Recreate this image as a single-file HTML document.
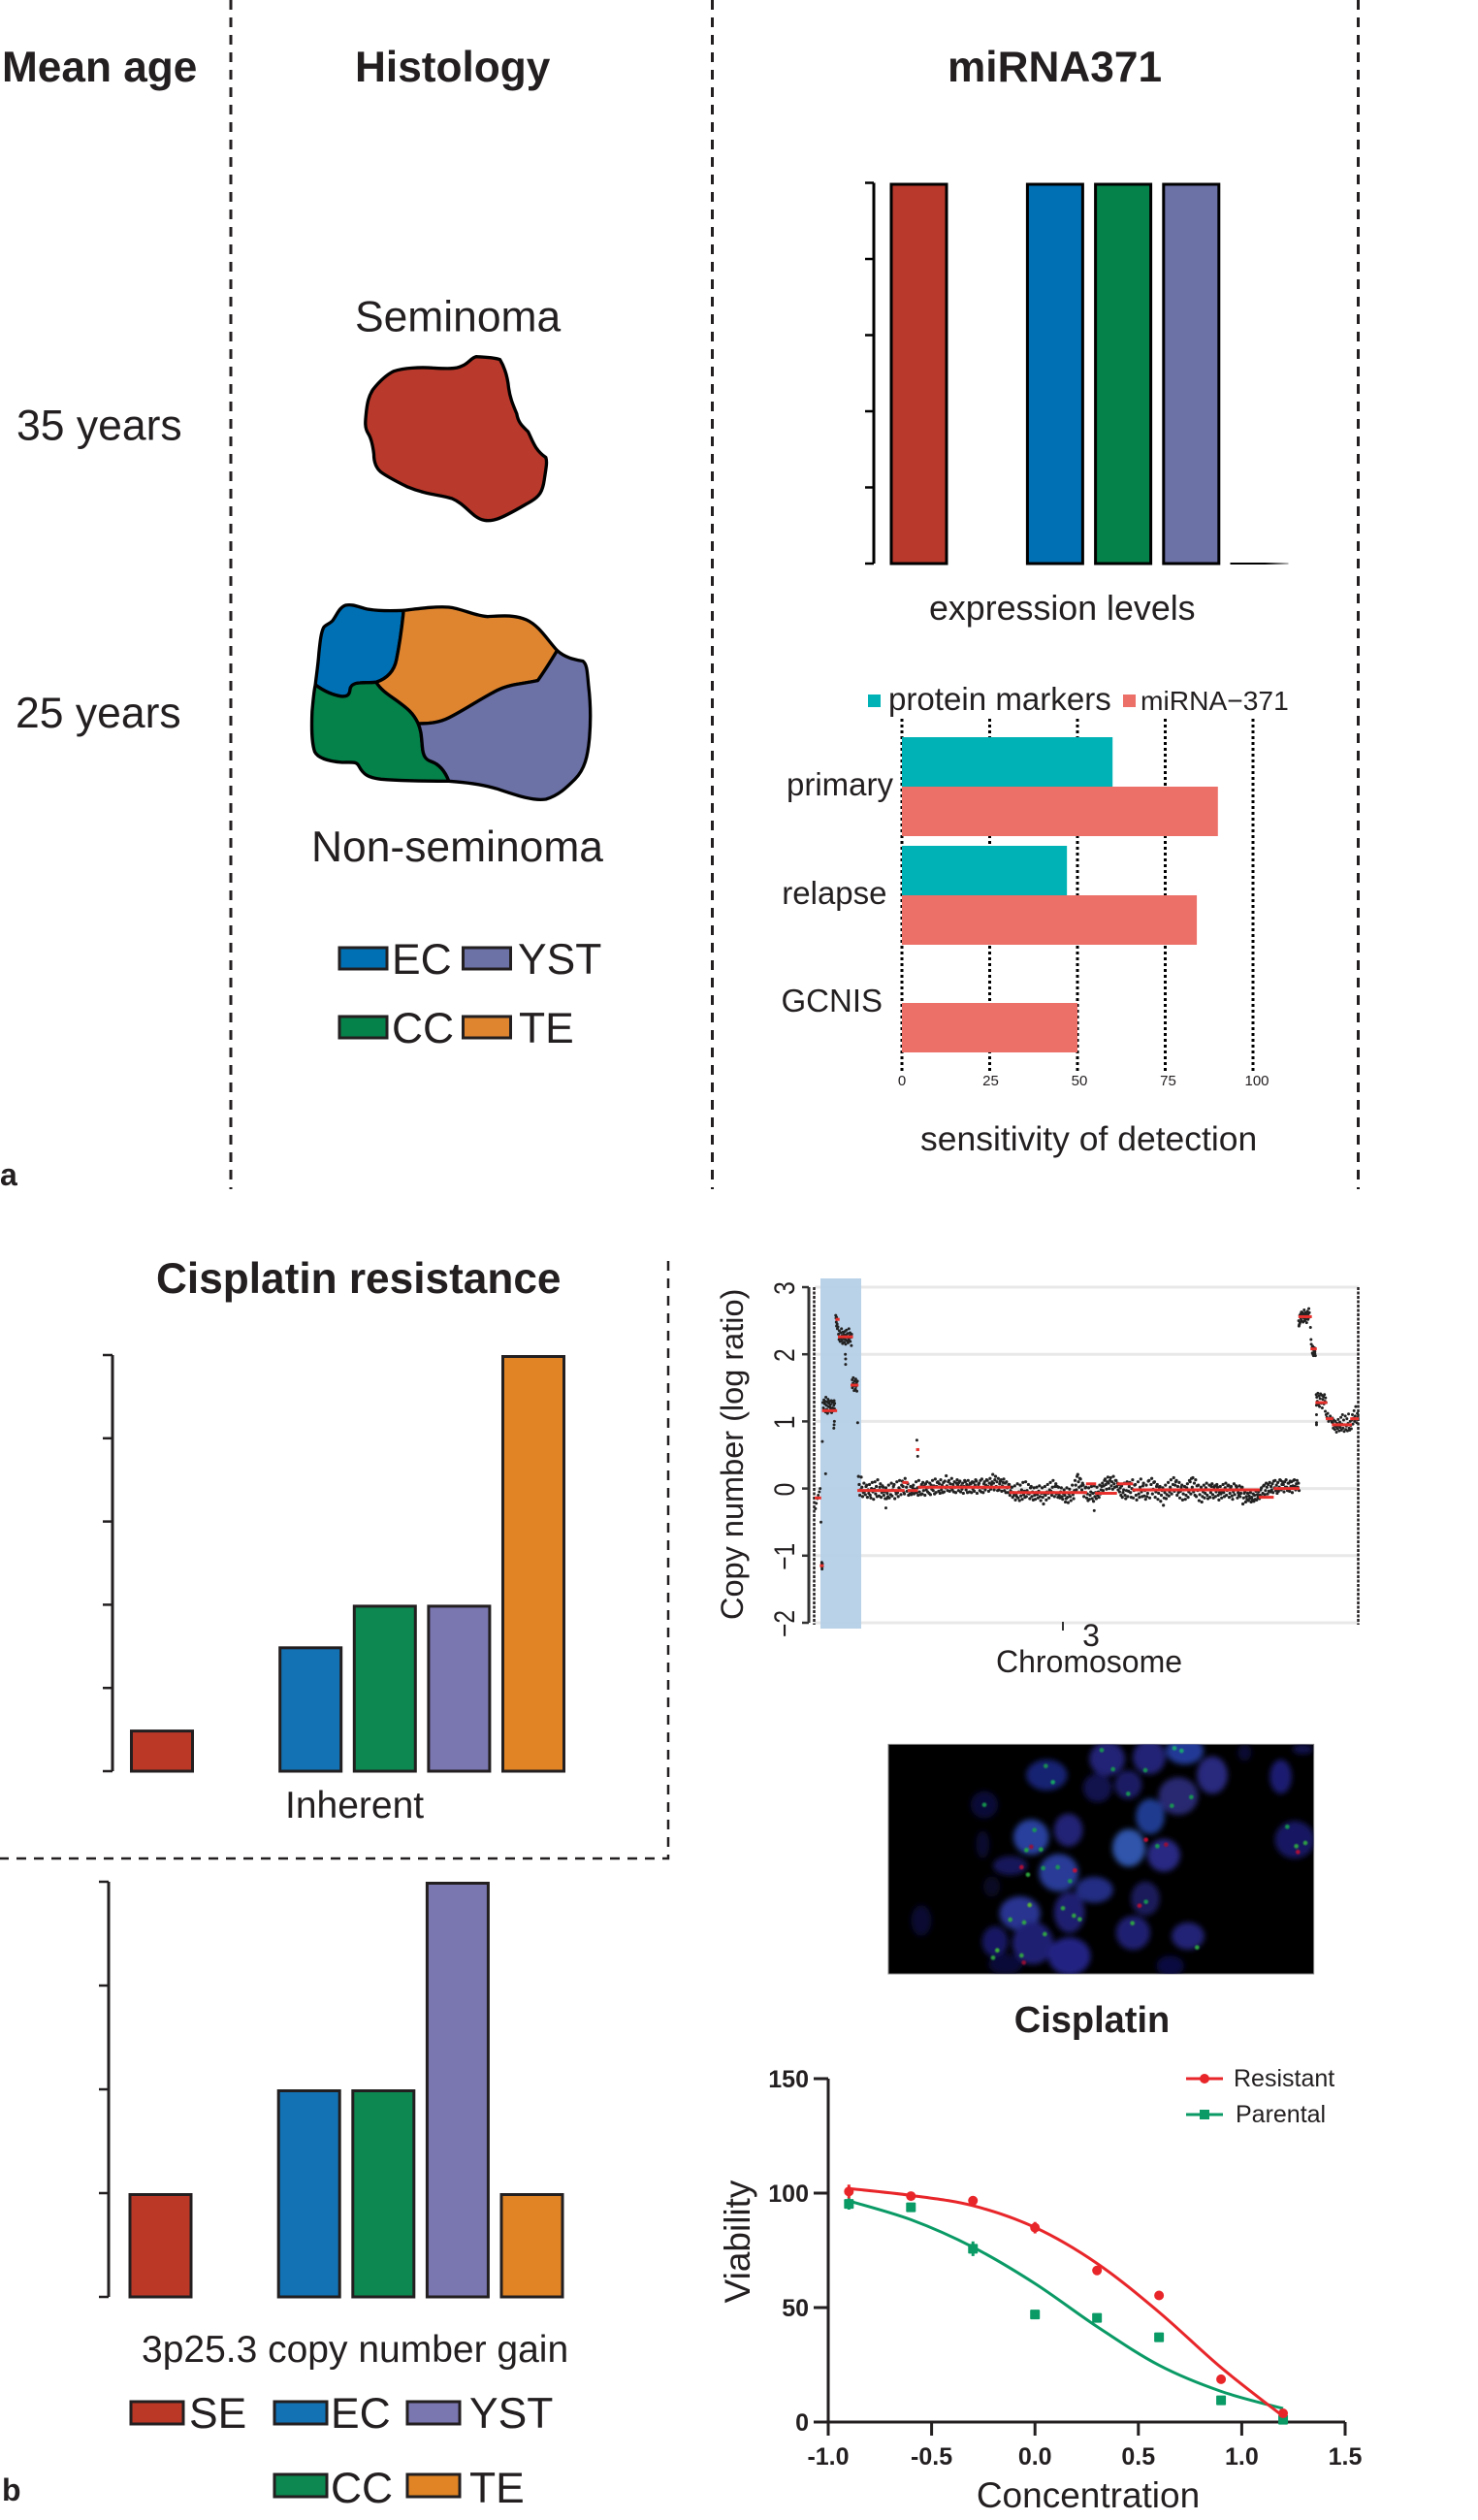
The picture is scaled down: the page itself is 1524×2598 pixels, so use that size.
<!DOCTYPE html>
<html lang="en">
<head>
<meta charset="utf-8">
<title>Testicular germ cell tumour figure</title>
<style>
html,body{margin:0;padding:0;background:#fff;}
svg{display:block;}
text{font-family:"Liberation Sans",Arial,sans-serif;fill:#231f20;}
.b{font-weight:bold;}
</style>
</head>
<body>
<svg id="figure" xmlns="http://www.w3.org/2000/svg" width="1524" height="2598" viewBox="0 0 1524 2598">
<defs>
<linearGradient id="fade" x1="0" x2="1" y1="0" y2="0"><stop offset="0.6" stop-color="#000"/><stop offset="1" stop-color="#bbb"/></linearGradient>
<filter id="blur2" x="-30%" y="-30%" width="160%" height="160%"><feGaussianBlur stdDeviation="9"/></filter>
<filter id="blur1" x="-100%" y="-100%" width="300%" height="300%"><feGaussianBlur stdDeviation="2"/></filter>
<clipPath id="fishClip"><rect x="48" y="25" width="1316" height="710"/></clipPath>
</defs>

<!-- Panel a: static text and dividers -->
<g>
<line x1="238" y1="0" x2="238" y2="1226" stroke="#231f20" stroke-width="3" stroke-dasharray="10 8"/>
<line x1="734.5" y1="0" x2="734.5" y2="1226" stroke="#231f20" stroke-width="3" stroke-dasharray="10 8"/>
<line x1="1400.5" y1="0" x2="1400.5" y2="1226" stroke="#231f20" stroke-width="3" stroke-dasharray="10 8"/>
<text x="2" y="84" font-size="44.2" class="b">Mean age</text>
<text x="366" y="84" font-size="44.2" class="b">Histology</text>
<text x="977" y="84" font-size="44.2" class="b">miRNA371</text>
<text x="17" y="453.5" font-size="44.5">35 years</text>
<text x="16" y="750" font-size="44.5">25 years</text>
<text x="366" y="341.5" font-size="44.4">Seminoma</text>
<text x="321" y="888" font-size="44.4">Non-seminoma</text>
<text x="0" y="1222" font-size="32" class="b">a</text>

<g transform="translate(299.5 340) scale(0.33333)" stroke="#000" stroke-width="10" stroke-linejoin="round">
<path fill="#b93a2c" d="M575,83 C600,85 630,85 648,92 C665,120 672,150 675,180 C680,215 690,235 700,260 C705,290 720,300 735,315 C750,345 755,370 790,395 C795,410 790,430 785,465 C780,500 770,515 745,530 C710,550 670,575 640,585 C610,595 590,590 570,575 C545,555 530,535 500,522 C460,510 420,510 360,485 C330,470 300,455 280,440 C262,425 258,405 258,385 C255,360 250,335 240,320 C228,300 232,280 235,250 C238,225 242,205 255,185 C275,160 295,140 320,128 C350,118 400,115 440,118 C480,120 510,122 530,112 C550,105 560,85 575,83 Z"/>
<path fill="#0070b4" d="M350,868 C300,870 260,870 230,862 C205,855 190,848 170,852 C150,860 145,880 130,900 C120,910 110,912 103,920 C95,935 92,960 88,1000 C85,1040 80,1070 77,1098 C100,1115 130,1130 160,1134 C175,1134 182,1130 184,1115 C185,1100 195,1093 215,1092 C235,1090 250,1092 265,1090 C295,1080 320,1060 328,1020 C338,970 345,920 350,868 Z"/>
<path fill="#df8530" d="M350,868 C400,862 450,855 490,858 C530,862 570,885 610,887 C650,885 690,880 730,897 C770,915 795,960 825,992 C805,1025 790,1050 765,1085 C720,1095 680,1095 640,1115 C590,1140 540,1175 490,1200 C460,1215 430,1218 395,1218 C380,1185 360,1170 330,1148 C305,1130 280,1115 265,1090 C295,1080 320,1060 328,1020 C338,970 345,920 350,868 Z"/>
<path fill="#05814a" d="M77,1098 C100,1115 130,1130 160,1134 C175,1134 182,1130 184,1115 C185,1100 195,1093 215,1092 C235,1090 250,1092 265,1090 C280,1115 305,1130 330,1148 C360,1170 380,1185 395,1218 C405,1240 405,1260 408,1290 C410,1320 420,1330 435,1335 C465,1345 480,1370 490,1396 C420,1396 340,1395 280,1390 C240,1385 225,1375 212,1350 C205,1335 195,1338 160,1338 C120,1335 85,1325 75,1305 C65,1275 65,1230 67,1180 C70,1150 72,1120 77,1098 Z"/>
<path fill="#6c71a6" d="M825,992 C850,1015 880,1020 905,1025 C918,1035 918,1060 922,1100 C928,1150 930,1200 925,1260 C920,1320 910,1360 880,1390 C855,1415 830,1440 790,1452 C750,1458 700,1440 640,1420 C590,1405 540,1400 490,1396 C480,1370 465,1345 435,1335 C420,1330 410,1320 408,1290 C405,1260 405,1240 395,1218 C430,1218 460,1215 490,1200 C540,1175 590,1140 640,1115 C680,1095 720,1095 765,1085 C790,1050 805,1025 825,992 Z"/>
</g>

<g stroke-width="3">
<rect x="350" y="977" width="49" height="22" fill="#0070b4" stroke="#231f20"/>
<text x="404" y="1004" font-size="44.4" stroke="none">EC</text>
<rect x="477.5" y="977" width="49" height="22" fill="#6c71a6" stroke="#231f20"/>
<text x="534" y="1004" font-size="44.4" stroke="none">YST</text>
<rect x="350" y="1048" width="49" height="22" fill="#05814a" stroke="#231f20"/>
<text x="404" y="1075" font-size="44.4" stroke="none">CC</text>
<rect x="477.5" y="1048" width="49" height="22" fill="#df8530" stroke="#231f20"/>
<text x="535" y="1075" font-size="44.4" stroke="none">TE</text>
</g>

<g id="mirnaChart"></g>
<text x="958" y="639" font-size="35.8">expression levels</text>

<g>
<rect x="895" y="716" width="13" height="13" fill="#00b2b5"/>
<text x="916" y="732" font-size="33.1">protein markers</text>
<rect x="1158" y="716" width="13" height="13" fill="#ec6f68"/>
<text x="1176" y="732" font-size="28.2">miRNA−371</text>
</g>
<g id="sensChart"></g>
<text x="949" y="1186" font-size="35.5">sensitivity of detection</text>
</g>

<!-- Panel b -->
<g>
<path d="M689 1300 V1916 H0" fill="none" stroke="#231f20" stroke-width="2.5" stroke-dasharray="10 8"/>
<text x="161" y="1333" font-size="44.2" class="b">Cisplatin resistance</text>
<g id="inherentChart"></g>
<text x="294" y="1874" font-size="39">Inherent</text>
<g id="gainChart"></g>
<text x="146" y="2435" font-size="39">3p25.3 copy number gain</text>

<g>
<rect x="135" y="2476" width="54" height="23" fill="#bb3827" stroke="#231f20" stroke-width="3"/>
<text x="195" y="2503" font-size="44.4">SE</text>
<rect x="283" y="2476" width="54" height="23" fill="#1272b4" stroke="#231f20" stroke-width="3"/>
<text x="341" y="2503" font-size="44.4">EC</text>
<rect x="420" y="2476" width="54" height="23" fill="#7a76b0" stroke="#231f20" stroke-width="3"/>
<text x="484" y="2503" font-size="44.4">YST</text>
<rect x="283" y="2551" width="54" height="23" fill="#0c8850" stroke="#231f20" stroke-width="3"/>
<text x="341" y="2580" font-size="44.4">CC</text>
<rect x="420" y="2551" width="54" height="23" fill="#e08425" stroke="#231f20" stroke-width="3"/>
<text x="484" y="2580" font-size="44.4">TE</text>
</g>
<text x="2" y="2578" font-size="32" class="b">b</text>

<g id="cnvChart"></g>
<text x="0" y="0" font-size="32.5" transform="translate(766 1670) rotate(-90)">Copy number (log ratio)</text>
<text x="1123" y="1724" font-size="32" text-anchor="middle">Chromosome</text>

<g transform="translate(900 1790) scale(0.33333)">
<rect x="48" y="25" width="1316" height="710" fill="#000" stroke="#888" stroke-width="3"/>
<g clip-path="url(#fishClip)">
<g id="fishCells" filter="url(#blur2)" opacity="0.82"></g>
<g id="fishSpots" filter="url(#blur1)" opacity="0.9"></g>
</g>
</g>

<text x="1126" y="2095" font-size="38" class="b" text-anchor="middle">Cisplatin</text>
<g id="viaChart"></g>
<text x="0" y="0" font-size="37" text-anchor="middle" transform="translate(773 2311) rotate(-90)">Viability</text>
<text x="1122" y="2585" font-size="37" text-anchor="middle">Concentration</text>
</g>
</svg>

<script>
/* ---------- chart data ---------- */
const mirnaCategories = ["SE", "", "EC", "CC", "YST", "TE"];
const mirnaValues = [5, null, 5, 5, 5, 0];
const mirnaColors = ["#b93a2c", "", "#0070b4", "#05814a", "#6c71a6", "#000"];
const mirnaTicks = [0, 1, 2, 3, 4, 5];

const sensCategories = ["primary", "relapse", "GCNIS"];
const proteinValues = [60, 47, 0];
const mirnaSensValues = [90, 84, 50];
const sensTicks = [0, 25, 50, 75, 100];

const resistCategories = ["SE", "", "EC", "CC", "YST", "TE"];
const resistColors = ["#bb3827", "", "#1272b4", "#0c8850", "#7a76b0", "#e08425"];
const inherentValues = [0.5, null, 1.5, 2, 2, 5];
const inherentTicks = [0, 1, 2, 3, 4, 5];
const gainValues = [1, null, 2, 2, 4, 1];
const gainTicks = [0, 1, 2, 3, 4];

const cnTicks = [3, 2, 1, 0, -1, -2];
const cnSegStart = [0, 1.9, 2.7, 7.6, 8.5, 13.1, 15.6, 32, 33.9, 37, 37.7, 71, 99, 102.3, 110.3, 115.9, 162, 167.5, 176.5, 180.9, 182.7, 186.5, 188.7, 195.4];
const cnSegEnd = [2.4, 3.3, 8.2, 9.1, 14, 16, 32.8, 34.2, 37.7, 38.2, 71.5, 99.4, 102.7, 110.3, 116.2, 162.4, 167.5, 176.9, 181.4, 183.2, 187, 189.2, 196, 198.5];
const cnSegVal = [-0.14, -1.15, 1.16, 2.52, 2.26, 1.54, -0.03, 0.09, -0.03, 0.58, 0.02, -0.06, 0.07, -0.07, 0.07, -0.02, -0.13, 0, 2.56, 2.08, 1.28, 1.04, 0.95, 1.04];

/* clusters and outliers: position (Mb) and log ratio */
const cnClusterPos = [0.3,0.6,1,1.3,1.7,2,2.3,2.6,2.6,2.7,2.7,2.8,2.8,2.8,4,
3,3.2,3.4,3.5,3.7,3.8,4,4.1,4.3,4.4,4.6,4.7,4.9,5,5.2,5.3,5.5,5.6,5.8,5.9,6.1,6.2,6.4,6.5,6.7,6.8,7,7.1,7.2,7.3,7,7.1,7.2,
7.7,7.8,7.9,8,8,8.2,8.3,8.5,
8.7,8.9,9,9.2,9.3,9.5,9.6,9.8,9.9,10,10.2,10.3,10.5,10.6,10.8,10.9,11,11.2,11.3,11.5,11.6,11.8,11.9,12,12.2,12.3,12.5,12.6,12.8,12.9,13,13.2,13.4,11.2,11.3,11.3,13.5,
13.7,13.8,14,14.1,14.3,14.4,14.6,14.7,14.9,15,15.1,15.3,15.4,15.6,15.7,
37.3,37.6,26,102,
176.6,176.8,177,177.1,177.3,177.4,177.6,177.7,177.9,178,178.2,178.3,178.5,178.6,178.8,178.9,179.1,179.2,179.4,179.5,179.7,179.8,180,180.1,180.3,180.4,180.5,176.7,177,180.9,181.1,181.2,
181.5,181.6,181.7,181.8,181.9,182,182.1,182.2,182.3,182.4,182.5,182.6,182.7,182.5,182.6,
183,183.1,183.2,183.4,183.6,183.8,184,184.2,184.4,184.6,184.8,185,185.2,185.4,185.6,185.8,186,186.2,186.4,186.6,183.1,183.1,183.1,
186.3,186.6,186.9,187.2,187.5,187.8,188.1,188.4,188.7,188.9,
189,189.2,189.4,189.6,189.8,190,190.2,190.4,190.6,190.8,191,191.2,191.4,191.6,191.8,192,192.2,192.4,192.6,192.8,193,193.2,193.4,193.6,193.8,194,194.2,194.4,194.6,194.8,195,195.2,195.4,195.6,195.8,
196,196.2,196.4,196.6,196.8,197,197.2,197.4,197.6,197.8,198,198.2];
const cnClusterVal = [-0.3,-0.22,-0.15,-0.1,-0.05,0,-0.5,-1.1,-1.13,-1.17,-1.2,-1.12,-1.16,0.7,0.22,
1.28,1.2,1.32,1.17,1.26,1.3,1.14,1.36,1.24,1.18,1.29,1.12,1.33,1.22,1.27,1.15,1.3,1.21,1.25,1.18,1.31,1.13,1.28,1.2,1.3,1.16,1.24,1.31,1.19,1.27,0.9,0.95,1,
2.58,2.54,2.48,2.42,2.55,2.45,2.38,2.41,
2.3,2.22,2.35,2.26,2.19,2.32,2.24,2.38,2.2,2.28,2.16,2.33,2.23,2.3,2.18,2.27,2.34,2.22,2.15,2.29,2.36,2.2,2.26,2.31,2.17,2.24,2.38,2.21,2.28,2.32,2.19,2.25,2.13,2,1.93,1.85,2.3,
1.62,1.5,1.57,1.65,1.53,1.46,1.6,1.55,1.48,1.63,1.52,1.58,1.45,1.6,0.98,
0.72,0.48,-0.29,-0.33,
2.5,2.44,2.58,2.48,2.6,2.53,2.63,2.5,2.57,2.62,2.48,2.6,2.54,2.66,2.5,2.58,2.62,2.52,2.6,2.47,2.56,2.64,2.52,2.6,2.68,2.55,2.62,2.42,2.46,2.4,2.22,2.15,
2.1,2.02,2.12,2,2.07,1.98,2.1,2.03,1.99,2.06,2.01,2.08,1.98,2.04,2.09,
1.4,1.24,1.36,1.3,1.42,1.25,1.38,1.22,1.34,1.41,1.27,1.39,1.2,1.33,1.37,1.26,1.4,1.3,1.35,1.28,1.1,0.98,0.95,
1.15,1.1,1.06,1.12,1,1.04,1.08,1.02,0.99,1.05,
0.98,0.9,1.02,0.94,0.88,1,0.92,0.84,0.97,0.89,1.03,0.93,0.86,0.99,0.91,1.06,0.87,0.96,1.1,0.9,1.02,0.85,0.95,1.08,0.88,0.93,1.04,0.86,0.97,1.11,0.9,0.87,1,0.94,0.89,
1.02,1.1,0.96,1.05,1.16,1,1.08,1.22,1.03,0.98,1.12,1.06];

/* dense band near zero: one row per Mb starting at cnBandStart */
const cnBandStart = 16;
const cnBandVals = [
[.18,.06,-.1,-.02],[.17,.02,-.12,-.06],[.08,-.04,-.09,.03],[.05,-.13,-.02,-.07],[.06,-.1,-.14,0],[.09,-.05,-.16,-.01],[.1,-.08,.03,-.12],[.13,-.03,-.11,.02],[.07,-.13,-.06,.04],[.02,-.1,-.05,-.15],
[.01,-.15,-.07,-.12],[.05,-.14,-.03,-.09],[.08,-.11,-.02,.03],[.06,-.15,-.04,-.08],[.1,-.06,-.12,.01],[.12,-.02,-.09,.05],[.11,.03,-.05,-.08],[.15,.09,.02,-.04],[.07,-.1,-.03,-.08],[.03,-.09,-.05,.01],
[.05,-.08,-.01,-.06],[.1,-.06,.01,-.1],[.12,-.05,.02,-.09],[.06,-.08,.09,-.03],[.04,-.1,.07,-.02],[.1,-.05,.02,-.07],[.08,-.09,.05,-.01],[.12,-.03,.04,-.08],[.14,-.06,.03,.09],[.1,-.04,.07,-.07],
[.13,-.02,.05,-.06],[.09,-.05,.11,.01],[.19,.04,-.03,.1],[.12,-.04,.07,.01],[.15,-.02,.06,-.05],[.1,.02,-.06,.08],[.13,.05,-.03,.09],[.11,-.05,.04,-.01],[.08,-.07,.03,.12],[.1,-.02,.06,-.06],
[.12,.04,-.05,.08],[.07,-.06,.1,-.01],[.09,-.04,.05,.13],[.11,-.07,.02,.06],[.08,-.03,.12,-.05],[.14,.01,-.06,.07],[.1,-.02,.05,.13],[.12,.03,-.04,.08],[.15,-.01,.06,.1],[.21,.08,-.02,.13],
[.18,.03,.1,-.03],[.15,-.02,.07,.11],[.13,-.04,.04,.09],[.14,-.03,.08,-.06],[.1,.01,-.06,.06],[.06,-.1,-.03,.02],[.02,-.13,-.06,-.1],[.04,-.17,-.08,-.12],[.07,-.14,-.05,-.18],[.05,-.11,-.02,-.16],
[.09,-.09,-.04,-.13],[.1,-.12,-.03,-.07],[.06,-.08,-.15,.01],[.03,-.12,-.05,-.17],[.01,-.1,-.16,-.06],[.02,-.09,-.14,-.04],[.04,-.12,-.18,-.07],[.01,-.13,-.23,-.08],[.03,-.1,-.17,-.05],[.06,-.07,-.14,-.02],
[.09,-.04,-.1,.02],[.12,-.06,-.12,.03],[.07,-.08,.03,-.13],[.02,-.1,-.14,-.05],[.01,-.12,-.16,-.07],[-.02,-.1,-.2,-.15],[.01,-.13,-.21,-.08],[-.01,-.12,-.18,-.06],[.05,-.09,-.15,-.03],[.12,.05,-.02,.18],
[.21,.1,.02,.15],[.14,.04,-.02,.08],[.05,-.12,-.06,.01],[.02,-.14,-.08,-.18],[.01,-.16,-.1,-.05],[.03,-.15,-.07,-.19],[.04,-.12,-.06,-.15],[.02,-.1,-.05,-.13],[.05,-.08,-.02,.03],[.08,-.03,.04,.12],
[.14,.06,-.01,.1],[.17,.08,0,.12],[.16,.04,.1,-.01],[.18,.07,.02,.12],[.12,.03,.08,-.02],[.06,-.05,.01,-.1],[.04,-.13,-.06,-.02],[.08,-.1,-.15,-.03],[.1,-.12,-.04,.03],[.09,-.06,-.13,0],
[.13,-.14,-.03,.05],[.06,-.1,-.17,-.02],[.1,-.08,-.13,.02],[.14,-.05,-.12,.04],[.08,-.11,-.03,-.16],[.05,-.12,-.07,.11],[.12,-.14,-.02,.06],[.15,-.08,-.01,.09],[.1,-.13,-.05,.03],[.06,-.16,-.07,.02],
[.03,-.19,-.1,-.03],[.01,-.25,-.14,-.06],[.05,-.15,-.09,-.02],[.09,-.11,-.05,.02],[.13,-.08,-.02,.06],[.16,-.04,.05,.1],[.12,-.1,.03,-.06],[.09,-.14,-.04,.02],[.05,-.17,-.08,-.02],[.03,-.16,-.1,.01],
[.07,-.13,-.05,.12],[.1,-.08,.15,.02],[.16,-.05,.08,-.1],[.13,-.12,.04,-.03],[.05,-.18,-.09,-.02],[.02,-.2,-.12,-.05],[.05,-.14,-.07,.01],[.08,-.1,-.15,-.02],[.05,-.13,-.06,.03],[.07,-.09,-.14,.02],
[.04,-.12,-.05,.06],[.02,-.1,-.17,-.06],[.03,-.08,-.14,-.04],[.06,-.06,-.12,.01],[.08,-.1,-.03,.04],[.05,-.13,-.07,.01],[.03,-.11,-.16,-.05],[.07,-.09,-.02,.04],[.02,-.14,-.06,-.1],[.04,-.12,-.07,.01],
[.02,-.23,-.14,-.07],[-.05,-.2,-.12,-.16],[-.07,-.18,-.11,-.15],[-.06,-.2,-.13,-.17],[-.08,-.19,-.1,-.16],[-.04,-.17,-.09,-.13],[-.05,-.15,-.1,-.02],[.01,-.12,-.07,.04],[.05,-.09,-.03,.08],[.02,-.08,.06,-.04],
[.09,-.05,.03,-.02],[.07,-.06,.11,.01],[.12,-.03,.05,-.07],[.09,-.04,.02,.13],[.12,-.02,.06,.1],[.06,-.05,.1,.02],[.13,.02,-.03,.08],[.08,-.04,.11,.03],[.1,-.06,.04,.12],[.13,.03,-.02,.07],
[.12,.02,.08,-.03]];

const viaDoses = [-0.9, -0.6, -0.3, 0, 0.3, 0.6, 0.9, 1.2];
const viaResistant = [100.7, 98.7, 96.7, 84.9, 66.2, 55.3, 18.7, 3.8];
const viaParental = [95.3, 93.8, 75.7, 47, 45.5, 37, 9.5, 1];
const viaResistantErr = [3, 1.5, 1.5, 2.5, 1.5, 1.5, 1, 0.8];
const viaParentalErr = [2.5, 2, 3.2, 1, 1.5, 1, 1.5, 0.8];
const viaResistantFit = [102, 99, 94.5, 85, 69.3, 48, 23.8, 2.5];
const viaParentalFit = [96.6, 88.4, 76.4, 60.5, 41.7, 24.8, 13.4, 5.9];
const viaYTicks = [0, 50, 100, 150];
const viaXTicks = [-1, -0.5, 0, 0.5, 1, 1.5];

/* micrograph blobs (drawing, not data) */
const fishCellList = [
[538,120,60,45,"#1a2a8c"],[725,70,52,50,"#2a2a90"],[855,65,48,50,"#2a2a90"],[965,45,55,40,"#2a47b8"],[1050,120,45,55,"#30309a"],[695,160,42,42,"#14145e"],[790,150,40,42,"#20207a"],[945,185,58,55,"#30308a"],[858,248,42,52,"#2848b0"],[345,212,40,40,"#0c0c44"],[1262,125,32,50,"#24248a"],[490,312,52,52,"#3050c0"],[605,290,42,48,"#2a2a90"],[792,345,48,55,"#3a68d0"],[900,368,48,48,"#3030a0"],[575,422,58,55,"#3048b8"],[685,475,55,38,"#2a38a0"],[425,400,50,28,"#1e1e70"],[340,335,20,40,"#0a0a3a"],[368,465,25,30,"#08082e"],[455,548,60,50,"#3040b0"],[608,545,45,60,"#26268a"],[843,502,42,50,"#202070"],[805,608,50,50,"#28288a"],[975,618,48,40,"#2a2a90"],[378,635,38,45,"#1e1e78"],[495,640,60,62,"#28288c"],[608,680,62,55,"#2c2ca0"],[1305,320,58,55,"#1e1e78"],[150,570,30,45,"#0a0a3c"],[920,710,40,30,"#101050"],[410,705,50,30,"#0a0a44"],[1150,50,20,25,"#0c0c40"],[1330,40,30,15,"#14145e"]];
const fishSpotList = [
[535,92,"#1a9a50"],[557,142,"#18b060"],[708,43,"#18a050"],[743,102,"#18a050"],[843,105,"#18a050"],[933,37,"#18b070"],[955,45,"#18b070"],[790,178,"#18a050"],[985,188,"#18a050"],[925,215,"#18a050"],[345,212,"#18a050"],[500,290,"#18a050"],[475,352,"#20b040"],[520,350,"#20b040"],[490,342,"#a01030"],[625,415,"#d01030"],[527,408,"#18a050"],[572,405,"#18a050"],[610,448,"#18a050"],[845,320,"#d01030"],[880,340,"#18a050"],[907,335,"#a01030"],[485,522,"#60c030"],[425,567,"#30b040"],[468,576,"#30b040"],[588,532,"#30b040"],[640,566,"#30b040"],[622,555,"#30b040"],[385,662,"#40c030"],[372,685,"#30b040"],[460,678,"#30b040"],[532,612,"#30b040"],[467,700,"#a01030"],[1003,653,"#30b040"],[803,578,"#30b040"],[825,524,"#c01030"],[845,512,"#18a050"],[1310,340,"#30b040"],[1338,330,"#30b040"],[1315,358,"#c01030"],[1282,280,"#18a050"],[480,428,"#30b040"],[460,405,"#c01030"]];

/* ---------- helpers ---------- */
const SVGNS = "http://www.w3.org/2000/svg";
function mk(tag, attrs, parent) {
  const el = document.createElementNS(SVGNS, tag);
  for (const k in attrs) el.setAttribute(k, attrs[k]);
  parent.appendChild(el);
  return el;
}
function linear(d0, d1, r0, r1) {
  return v => r0 + (v - d0) * (r1 - r0) / (d1 - d0);
}
function smoothPath(pts) {
  let d = "M" + pts[0][0] + "," + pts[0][1];
  for (let i = 0; i < pts.length - 1; i++) {
    const p0 = pts[Math.max(i - 1, 0)], p1 = pts[i], p2 = pts[i + 1], p3 = pts[Math.min(i + 2, pts.length - 1)];
    d += " C" + (p1[0] + (p2[0] - p0[0]) / 6) + "," + (p1[1] + (p2[1] - p0[1]) / 6) + " " + (p2[0] - (p3[0] - p1[0]) / 6) + "," + (p2[1] - (p3[1] - p1[1]) / 6) + " " + p2[0] + "," + p2[1];
  }
  return d;
}
function drawColumnChart(g, cats, vals, colors, ticks, cfg) {
  const y = linear(ticks[0], ticks[ticks.length - 1], cfg.y0, cfg.y1);
  const axis = mk("line", {x1: cfg.axisX, x2: cfg.axisX, y1: cfg.y1, y2: cfg.y0, stroke: cfg.stroke, "stroke-width": 3}, g);
  
  
  ticks.forEach(t => {
    const tk = mk("line", {x1: cfg.axisX - cfg.tickLen, x2: cfg.axisX, y1: y(t), y2: y(t), stroke: cfg.stroke, "stroke-width": 2.5}, g);
    
    
  });
  vals.forEach((v, i) => {
    if (v === null) return;
    const x = cfg.x0 + i * cfg.step;
    if (v === 0) {
      const flat = mk("rect", {x: x, y: cfg.y0 - 1, width: cfg.width, height: 2, fill: "url(#fade)"}, g);
      
      
      return;
    }
    const bar = mk("rect", {x: x + 1.5, y: y(v) + 1.5, width: cfg.width - 3, height: cfg.y0 - y(v) - 1.5, fill: colors[i], stroke: cfg.stroke, "stroke-width": 3}, g);
    
    
  });
}

/* ---------- panel a, miRNA columns ---------- */
drawColumnChart(document.getElementById("mirnaChart"), mirnaCategories, mirnaValues, mirnaColors, mirnaTicks,
  {y0: 581, y1: 188.5, axisX: 901, tickLen: 9, x0: 917.5, step: 70.2, width: 60, stroke: "#000"});

/* ---------- panel a, sensitivity bars ---------- */
(function () {
  const g = document.getElementById("sensChart");
  const x = linear(0, 100, 930, 1292);
  const bandTop = [760, 872, 983];
  const labelRight = [921, 914.5, 910];
  const barH = 51;
  sensTicks.forEach(t => {
    const gl = mk("line", {x1: x(t), x2: x(t), y1: 741, y2: 1105, stroke: "#000", "stroke-width": 3, "stroke-dasharray": "3 3"}, g);
    
    
    const tl = mk("text", {x: x(t) + t * 0.04, y: 1119, "font-size": 15, "text-anchor": "middle"}, g);
    tl.textContent = t;
    
    
  });
  sensCategories.forEach((c, i) => {
    const lab = mk("text", {x: labelRight[i], y: bandTop[i] + 60, "font-size": 33, "text-anchor": "end"}, g);
    lab.textContent = c;
    
    
    const p = mk("rect", {x: x(0), y: bandTop[i], width: x(proteinValues[i]) - x(0), height: barH, fill: "#00b2b5"}, g);
    
    
    const m = mk("rect", {x: x(0), y: bandTop[i] + barH, width: x(mirnaSensValues[i]) - x(0), height: barH, fill: "#ec6f68"}, g);
    
    
  });
})();

/* ---------- panel b, columns ---------- */
drawColumnChart(document.getElementById("inherentChart"), resistCategories, inherentValues, resistColors, inherentTicks,
  {y0: 1826, y1: 1397, axisX: 116, tickLen: 10, x0: 134, step: 76.6, width: 66, stroke: "#231f20"});
drawColumnChart(document.getElementById("gainChart"), resistCategories, gainValues, resistColors, gainTicks,
  {y0: 2368, y1: 1940, axisX: 112, tickLen: 10, x0: 132.5, step: 76.6, width: 66, stroke: "#231f20"});

/* ---------- copy number plot ---------- */
(function () {
  const g = document.getElementById("cnvChart");
  const x = linear(0, 198.5, 840, 1401);
  const y = linear(-2, 3, 1673, 1327);
  cnTicks.forEach(t => {
    const gl = mk("line", {x1: 840, x2: 1401, y1: y(t), y2: y(t), stroke: "#e8e8e8", "stroke-width": 3}, g);
    
    
  });
  const band = mk("rect", {x: 846, y: 1318, width: 42, height: 361, fill: "#b4cee6", opacity: 0.92}, g);
  
  
  [839.5, 1400.5].forEach(px => {
    const dl = mk("line", {x1: px, x2: px, y1: y(3), y2: y(-2) + 2, stroke: "#231f20", "stroke-width": 2.5, "stroke-dasharray": "3 1.5"}, g);
    
    
  });
  const axis = mk("line", {x1: 834, x2: 834, y1: y(3), y2: y(-2), stroke: "#333", "stroke-width": 3}, g);
  
  
  cnTicks.forEach(t => {
    const tk = mk("line", {x1: 827, x2: 834, y1: y(t), y2: y(t), stroke: "#333", "stroke-width": 2.5}, g);
    
    
    const tl = mk("text", {x: 0, y: 0, "font-size": 30, "text-anchor": "middle", transform: "translate(819 " + (y(t) + 1) + ") rotate(-90) scale(0.82 1)"}, g);
    tl.textContent = String(t).replace("-", "\u2212");
    
    
  });
  const xt = mk("line", {x1: 1096, x2: 1096, y1: y(-2) - 1, y2: y(-2) + 8, stroke: "#333", "stroke-width": 2}, g);
  
  
  const xl = mk("text", {x: 1125, y: 1697, "font-size": 32, "text-anchor": "middle"}, g);
  xl.textContent = "3";
  
  

  const dots = mk("g", {fill: "#222"}, g);
  
  
  cnClusterPos.forEach((p, i) => {
    mk("circle", {cx: x(p), cy: y(cnClusterVal[i]), r: 1.5}, dots);
  });
  cnBandVals.forEach((row, i) => {
    row.forEach((v, j) => {
      mk("circle", {cx: x(cnBandStart + i + j * 0.25), cy: y(v), r: 1.6}, dots);
    });
  });
  const segs = mk("g", {stroke: "#e8302c", "stroke-width": 3}, g);
  
  
  cnSegVal.forEach((v, i) => {
    mk("line", {x1: x(cnSegStart[i]), x2: x(cnSegEnd[i]), y1: y(v), y2: y(v)}, segs);
  });
})();

/* ---------- micrograph ---------- */
(function () {
  const cells = document.getElementById("fishCells");
  fishCellList.forEach(c => { mk("ellipse", {cx: c[0], cy: c[1], rx: c[2] * 1.06, ry: c[3] * 1.06, fill: c[4]}, cells); });
  const spots = document.getElementById("fishSpots");
  fishSpotList.forEach(s => { mk("circle", {cx: s[0], cy: s[1], r: 7, fill: s[2]}, spots); });
})();

/* ---------- viability chart ---------- */
(function () {
  const g = document.getElementById("viaChart");
  const x = linear(-1, 1.5, 854, 1387);
  const y = linear(0, 150, 2497, 2143);
  const INK = "#231f20";
  const ya = mk("line", {x1: x(-1), x2: x(-1), y1: y(150), y2: y(0) + 14, stroke: INK, "stroke-width": 3}, g);
  
  
  const xa = mk("line", {x1: 839, x2: x(1.5), y1: y(0), y2: y(0), stroke: INK, "stroke-width": 3}, g);
  
  
  viaYTicks.forEach(t => {
    const tk = mk("line", {x1: 839, x2: x(-1), y1: y(t), y2: y(t), stroke: INK, "stroke-width": 3}, g);
    
    
    const tl = mk("text", {x: 834, y: y(t) + 9, "font-size": 25, "font-weight": "bold", "text-anchor": "end"}, g);
    tl.textContent = t;
    
    
  });
  viaXTicks.forEach(t => {
    const tk = mk("line", {x1: x(t), x2: x(t), y1: y(0), y2: y(0) + 14, stroke: INK, "stroke-width": 3}, g);
    
    
    const tl = mk("text", {x: x(t), y: 2541, "font-size": 25, "font-weight": "bold", "text-anchor": "middle"}, g);
    tl.textContent = t.toFixed(1);
    
    
  });
  function series(name, color, fit, vals, errs, square) {
    const sg = mk("g", {}, g);
    
    
    const line = mk("path", {d: smoothPath(viaDoses.map((d, i) => [x(d), y(fit[i])])), fill: "none", stroke: color, "stroke-width": 3}, sg);
    
    
    vals.forEach((v, i) => {
      const eb = mk("line", {x1: x(viaDoses[i]), x2: x(viaDoses[i]), y1: y(v + errs[i]), y2: y(v - errs[i]), stroke: color, "stroke-width": 3}, sg);
      
      
      const m = square
        ? mk("rect", {x: x(viaDoses[i]) - 5, y: y(v) - 5, width: 10, height: 10, rx: 1, fill: color}, sg)
        : mk("circle", {cx: x(viaDoses[i]), cy: y(v), r: 5, fill: color}, sg);
      
      
    });
  }
  series("parental", "#0a9a66", viaParentalFit, viaParental, viaParentalErr, true);
  series("resistant", "#e8262a", viaResistantFit, viaResistant, viaResistantErr, false);

  const lg = mk("g", {}, g);
  
  
  mk("line", {x1: 1223, x2: 1261, y1: 2143, y2: 2143, stroke: "#e8262a", "stroke-width": 3}, lg);
  mk("circle", {cx: 1242, cy: 2143, r: 5, fill: "#e8262a"}, lg);
  const r = mk("text", {x: 1272, y: 2151, "font-size": 25}, lg);
  r.textContent = "Resistant";
  
  
  mk("line", {x1: 1223, x2: 1261, y1: 2180, y2: 2180, stroke: "#0a9a66", "stroke-width": 3}, lg);
  mk("rect", {x: 1237, y: 2175, width: 10, height: 10, fill: "#0a9a66"}, lg);
  const p = mk("text", {x: 1274, y: 2188, "font-size": 25}, lg);
  p.textContent = "Parental";
  
  
})();
</script>
</body>
</html>
